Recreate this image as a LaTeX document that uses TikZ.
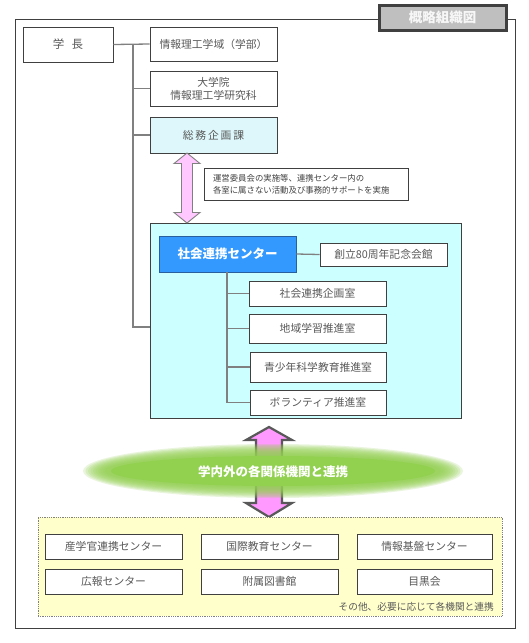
\documentclass[tikz,border=0pt]{standalone}
\usepackage{fontspec}
\setmainfont{Noto Sans CJK JP}
\definecolor{frame}{HTML}{404040}
\definecolor{txt}{HTML}{595959}
\definecolor{conn}{HTML}{808080}
\definecolor{cyanbox}{HTML}{CCFFFF}
\definecolor{somu}{HTML}{DDF7FA}
\definecolor{bluebox}{HTML}{3399FF}
\definecolor{blueedge}{HTML}{2A5F9E}
\definecolor{pinklight}{HTML}{FFC8FF}
\definecolor{pinkstrong}{HTML}{FF99FF}
\definecolor{ellgreen}{HTML}{92D050}
\definecolor{yellowbox}{HTML}{FFFFCC}
\definecolor{titlefill}{HTML}{BFBFBF}
\begin{document}
\begin{tikzpicture}[x=1pt,y=-1pt,
  box/.style={draw=frame, line width=0.9pt, fill=white, text=txt, inner sep=0pt, align=center,
    font=\fontsize{10.8}{13}\selectfont},
  connline/.style={draw=conn, line width=1.3pt},
  notebox/.style={draw=frame, line width=0.8pt, fill=white, text=frame, align=left,
    font=\fontsize{8.4}{12}\selectfont, inner xsep=9pt, inner ysep=0pt}]
\useasboundingbox (0,0) rectangle (529,643);
\fill[white] (0,0) rectangle (529,643);
% outer frame
\draw[frame, line width=1pt] (15,19) rectangle (515,628);
\node[draw=frame, line width=3pt, fill=titlefill, text=white!94!gray, minimum width=127pt, minimum height=25pt,
  inner sep=0pt, font=\fontsize{13.5}{13}\selectfont\bfseries] (title) at (442.5,17.5) {概略組織図};

% top boxes
\node[box, minimum width=90pt, minimum height=35pt, font=\fontsize{11.5}{13}\selectfont] (gakucho) at (68,44.5) {学\hspace{0.65em}長};
\node[box, minimum width=127pt, minimum height=34pt] (gakuiki) at (213.5,44) {情報理工学域（学部）};
\node[box, minimum width=127pt, minimum height=35pt] (daigakuin) at (213.5,88.5) {大学院\\情報理工学研究科};
\node[box, fill=somu, minimum width=127pt, minimum height=36pt] (somu) at (213.5,135) {総\,務\,企\,画\,課};

% trunk from president
\coordinate (t0) at (133,44);
\coordinate (cin) at (150,327);
\draw[connline] (gakucho.east) -- (gakuiki.west);
\draw[connline] (t0) |- (daigakuin.west);
\draw[connline] (t0) |- (somu.west);
\draw[connline] (t0) |- (cin);

% note box
\node[notebox, text width=186pt, minimum height=32pt] (note) at (306,184)
  {運営委員会の実施等、連携センター内の\\各室に属さない活動及び事務的サポートを実施};

% centre box
\node[draw=frame, line width=0.9pt, fill=cyanbox, minimum width=311pt, minimum height=195pt, inner sep=0pt] (cbox) at (305.5,320.5) {};

% small pink double arrow
\draw[draw=conn, line width=0.9pt, fill=pinklight, line join=miter]
  (187,153) -- (200,163.5) -- (192.5,163.5) -- (192.5,212.5) -- (200,212.5) -- (187,223)
  -- (174,212.5) -- (181.5,212.5) -- (181.5,163.5) -- (174,163.5) -- cycle;

\node[draw=blueedge, line width=0.9pt, fill=bluebox, text=white, minimum width=137pt, minimum height=36pt,
  inner sep=0pt, font=\fontsize{12.5}{13}\selectfont\bfseries] (center) at (227.5,254) {社会連携センター};
\node[box, minimum width=127pt, minimum height=23pt] (kinen) at (383.5,254.5) {創立80周年記念会館};
\node[box, minimum width=137pt, minimum height=25pt] (kikaku) at (317.5,293.5) {社会連携企画室};
\node[box, minimum width=137pt, minimum height=29pt] (chiiki) at (317.5,328.5) {地域学習推進室};
\node[box, minimum width=136pt, minimum height=30pt] (seishonen) at (318,367) {青少年科学教育推進室};
\node[box, minimum width=136pt, minimum height=25pt] (volunteer) at (318,402.5) {ボランティア推進室};

\coordinate (c0) at (227,272);
\draw[connline] (center.east) -- (kinen.west);
\draw[connline] (c0) |- (kikaku.west);
\draw[connline] (c0) |- (chiiki.west);
\draw[connline] (c0) |- (seishonen.west);
\draw[connline] (c0) |- (volunteer.west);

% big double arrow
\draw[draw=txt, line width=2.2pt, fill=pinkstrong, line join=miter]
  (269,427) -- (292,440) -- (282,440) -- (282,503) -- (292,503) -- (269,517)
  -- (246,503) -- (256,503) -- (256,440) -- (246,440) -- cycle;

% soft green ellipse
\foreach \k in {0,...,9}{
  \fill[ellgreen, opacity=0.2] (273,471) ellipse [x radius={190pt-2.5pt*\k}, y radius={27pt-1.2pt*\k}];
}
\fill[ellgreen] (273,471) ellipse [x radius=162pt, y radius=15pt];
\node[text=white, font=\fontsize{12.5}{13}\selectfont\bfseries, inner sep=0pt] (renkei) at (273,472) {学内外の各関係機関と連携};

% yellow box
\node[draw=conn, densely dotted, line width=0.8pt, fill=yellowbox, minimum width=464pt, minimum height=99pt, inner sep=0pt] (ybox) at (270,566.5) {};
\node[box, minimum width=137pt, minimum height=25pt] (sangaku) at (113.5,546.5) {産学官連携センター};
\node[box, minimum width=137pt, minimum height=25pt] (kokusai) at (269.5,546.5) {国際教育センター};
\node[box, minimum width=135pt, minimum height=25pt] (joho) at (424.5,546.5) {情報基盤センター};
\node[box, minimum width=137pt, minimum height=25pt] (koho) at (113.5,581.5) {広報センター};
\node[box, minimum width=137pt, minimum height=25pt] (fuzoku) at (269.5,581.5) {附属図書館};
\node[box, minimum width=135pt, minimum height=25pt] (meguro) at (424.5,581.5) {目黒会};
\node[anchor=east, text=txt, inner sep=0pt, font=\fontsize{9.7}{11}\selectfont] (sonota) at (494,607) {その他、必要に応じて各機関と連携};
\end{tikzpicture}
\end{document}
